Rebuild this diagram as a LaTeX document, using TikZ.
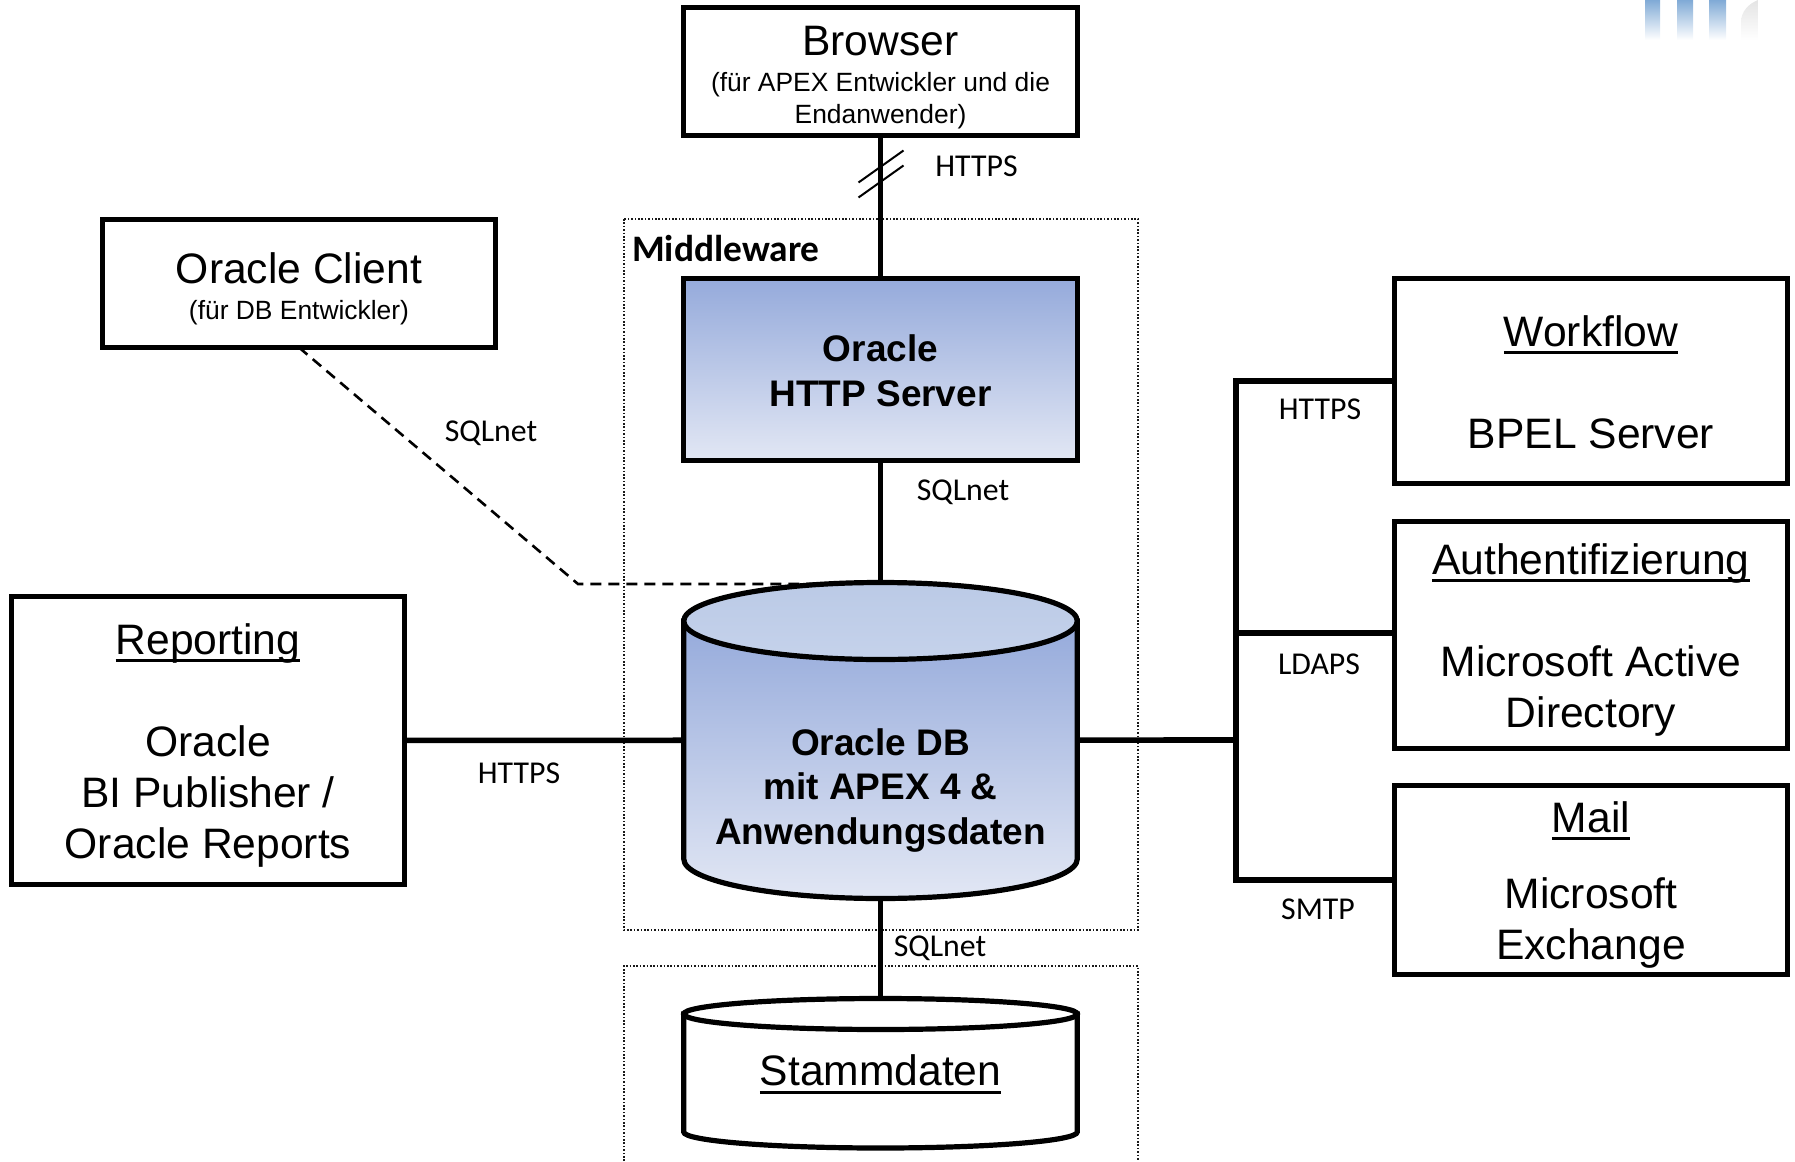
\documentclass[tikz,border=0pt]{standalone}
\usepackage{fontspec}
\setmainfont{Liberation Sans}
\newfontfamily\calfont{Carlito}
\usetikzlibrary{calc}
\newcommand\ulin[1]{\setbox0=\hbox{#1}\leavevmode\rlap{\vrule width\wd0 height -5pt depth 8pt}\box0}
\definecolor{gradtop}{RGB}{149,170,219}
\definecolor{gradbot}{RGB}{226,231,244}
\definecolor{captop}{RGB}{187,202,230}
\definecolor{capbot}{RGB}{197,210,235}
\definecolor{logob}{RGB}{128,170,214}
\definecolor{logog}{RGB}{228,228,228}
\tikzset{
  x=1pt,y=-1pt,
  boxnode/.style={draw=black,line width=5.2pt,fill=white,inner sep=0pt,outer sep=0pt,minimum width=393.5pt},
  grad/.style={top color=gradtop,bottom color=gradbot},
  conn/.style={line width=5.6pt},
  dashline/.style={line width=2.6pt,dash pattern=on 11pt off 7pt},
  slash/.style={line width=2pt},
  zone/.style={line width=1.4pt,dash pattern=on 1.6pt off 1.8pt,draw=black!90},
  big/.style={font=\fontsize{42.6}{51}\selectfont,align=center,inner sep=0pt},
  sub/.style={font=\fontsize{26.4}{32}\selectfont,align=center,inner sep=0pt},
  bold/.style={font=\fontsize{37}{44.6}\selectfont\bfseries,align=center,inner sep=0pt},
  proto/.style={font=\fontsize{31.8}{38}\selectfont\calfont,inner sep=0pt},
}
\begin{document}
\begin{tikzpicture}
\useasboundingbox (0,0) rectangle (1795,1161);
% logo
\shade[top color=logob,bottom color=white] (1645,0) rectangle (1660,40);
\shade[top color=logob,bottom color=white] (1677,0) rectangle (1693,40);
\shade[top color=logob,bottom color=white] (1709,0) rectangle (1726,40);
\shade[top color=logog,bottom color=white] (1758,0) -- (1758,40) -- (1741,40) -- (1741,22) .. controls (1741,12) and (1748,4) .. (1758,0) -- cycle;
% zones
\draw[zone] (624,219) rectangle (1138,930);
\draw[zone] (624,1161) -- (624,966) -- (1138,966) -- (1138,1161);
% anchors for shapes
\node[inner sep=0pt,outer sep=0pt,minimum width=393.5pt,minimum height=317pt] (db) at (880.5,740.2) {};
\node[inner sep=0pt,outer sep=0pt,minimum width=393.5pt,minimum height=150pt] (stamm) at (880.5,1073) {};
\coordinate (bend) at (578,584);
\coordinate (bus) at (1236,740);
\node[minimum width=393.5pt,minimum height=128pt,inner sep=0pt,outer sep=0pt] (browser) at (880.5,71.5) {};
\node[minimum width=393.5pt,minimum height=182pt,inner sep=0pt,outer sep=0pt] (http) at (880.5,369.5) {};
\node[minimum width=393.5pt,minimum height=128pt,inner sep=0pt,outer sep=0pt] (client) at (299,283.5) {};
\node[minimum width=393.5pt,minimum height=288pt,inner sep=0pt,outer sep=0pt] (report) at (208,740.5) {};
\node[minimum width=393.5pt,minimum height=205pt,inner sep=0pt,outer sep=0pt] (workflow) at (1591,381) {};
\node[minimum width=393.5pt,minimum height=227pt,inner sep=0pt,outer sep=0pt] (auth) at (1591,635) {};
\node[minimum width=393.5pt,minimum height=189pt,inner sep=0pt,outer sep=0pt] (mail) at (1591,880) {};
% connectors
\draw[conn] (browser) -- (http);
\draw[conn] (http) -- (db);
\draw[conn] (db) -- (stamm);
\draw[conn] (report) -- (db);
\draw[dashline] (client.south) -- (bend) -- (bend -| db.north);
\draw[conn] (db) -- (bus);
\draw[conn] (workflow.west) -- (workflow.west -| bus) -- (mail.west -| bus) -- (mail.west);
\draw[conn] (auth.west |- 0,633) -- (bus |- 0,633);
\draw[slash] ($(browser.south)+(-22,47)$) -- ($(browser.south)+(23,15)$);
\draw[slash] ($(browser.south)+(-22,62)$) -- ($(browser.south)+(23,30)$);
% boxes over connector ends
\node[boxnode,minimum height=128pt] at (browser) {};
\node[boxnode,minimum height=182pt,grad] at (http) {};
\node[boxnode,minimum height=128pt] at (client) {};
\node[boxnode,minimum height=288pt] at (report) {};
\node[boxnode,minimum height=205pt] at (workflow) {};
\node[boxnode,minimum height=227pt] at (auth) {};
\node[boxnode,minimum height=189pt] at (mail) {};
% DB cylinder
\path[draw=black,line width=5.2pt,grad] (db.west |- 0,621) -- (db.west |- 0,859)
  arc[start angle=180,end angle=360,x radius=196.75pt,y radius=39.5pt] -- (db.east |- 0,621) -- cycle;
\path[draw=black,line width=5.2pt,top color=captop,bottom color=capbot] (880.5,621) ellipse[x radius=196.75pt,y radius=38.5pt];
% Stammdaten cylinder
\path[draw=black,line width=5.2pt,fill=white] (stamm.west |- 0,1014) -- (stamm.west |- 0,1132)
  arc[start angle=180,end angle=360,x radius=196.75pt,y radius=16pt] -- (stamm.east |- 0,1014) -- cycle;
\path[draw=black,line width=5.2pt,fill=white] (880.5,1014) ellipse[x radius=196.75pt,y radius=15.5pt];
% texts
\node[big] (tbrowser) at (880.5,41) {Browser};
\node[sub] (tbrowsersub) at (880.5,100.5) {(für APEX Entwickler und die\\Endanwender)};
\node[big] (tclient) at (299,268) {Oracle Client};
\node[sub] (tclientsub) at (299,312.5) {(für DB Entwickler)};
\node[bold] (thttp) at (880.5,371) {Oracle\\HTTP Server};
\node[bold] (tdb) at (880.5,790.5) {Oracle DB\\mit APEX 4 \&\\Anwendungsdaten};
\node[big] (tstamm) at (880.5,1074.5) {\ulin{Stammdaten}};
\node[big] (treport) at (208,745) {\ulin{Reporting}\\[51pt]Oracle\\BI Publisher /\\Oracle Reports};
\node[big] (tworkflow) at (1591,382) {\ulin{Workflow}\\[51pt]BPEL Server};
\node[big] (tauth) at (1591,639.5) {\ulin{Authentifizierung}\\[51pt]Microsoft Active\\Directory};
\node[big] (tmail) at (1591,884.5) {\ulin{Mail}\\[25pt]Microsoft\\Exchange};
\node[font=\fontsize{37.4}{44}\selectfont\calfont\bfseries,inner sep=0pt,anchor=west] (tmw) at (632,249) {Middleware};
\node[proto] (p1) at (976.5,166) {HTTPS};
\node[proto] (p2) at (491,433.5) {SQLnet};
\node[proto] (p3) at (963,492) {SQLnet};
\node[proto] (p4) at (1320,409) {HTTPS};
\node[proto] (p5) at (1319,664) {LDAPS};
\node[proto] (p6) at (1318,909) {SMTP};
\node[proto] (p7) at (519,773) {HTTPS};
\node[proto] (p8) at (940,948) {SQLnet};
\end{tikzpicture}
\end{document}
